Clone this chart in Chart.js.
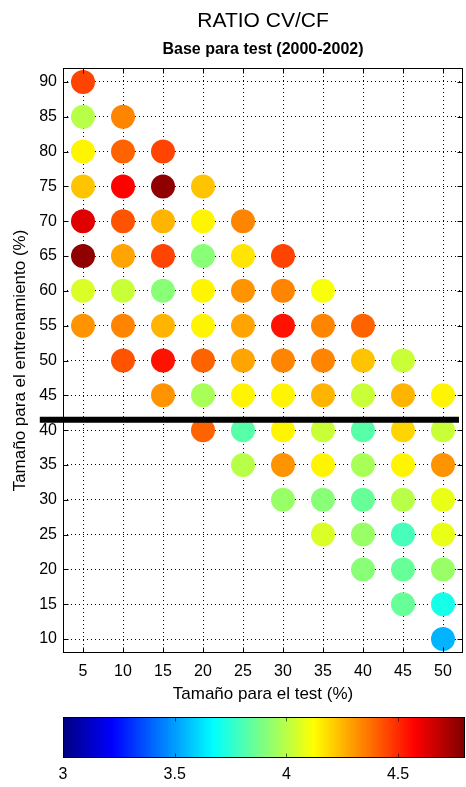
<!DOCTYPE html>
<html>
<head>
<meta charset="utf-8">
<script src="https://cdn.jsdelivr.net/npm/chart.js@4.4.0/dist/chart.umd.min.js"></script>
<style>
  html, body { margin: 0; padding: 0; background: #fff; }
  #wrap { position: relative; width: 466px; height: 787px; }
  #main { position: absolute; left: 0; top: 0; }
  #bar { position: absolute; left: 0; top: 712px; }
</style>
</head>
<body>
<div id="wrap">
  <canvas id="main" width="466" height="712"></canvas>
  <canvas id="bar" width="466" height="75"></canvas>
</div>
<script>
// training size (%) for each row, and the first test size (%) present in that row
const trainSizes = [90, 85, 80, 75, 70, 65, 60, 55, 50, 45, 40, 35, 30, 25, 20, 15, 10];
const firstTest  = [ 5,  5,  5,  5,  5,  5,  5,  5, 10, 15, 20, 25, 30, 35, 40, 45, 50];

// CV/CF ratio per row, test size going 5 by 5 from firstTest
const ratio90 = [4.45];
const ratio85 = [4.00, 4.33];
const ratio80 = [4.15, 4.40, 4.46];
const ratio75 = [4.22, 4.55, 4.76, 4.22];
const ratio70 = [4.62, 4.42, 4.25, 4.15, 4.33];
const ratio65 = [4.75, 4.28, 4.46, 3.92, 4.17, 4.45];
const ratio60 = [4.05, 4.02, 3.90, 4.15, 4.30, 4.33, 4.10];
const ratio55 = [4.30, 4.34, 4.25, 4.15, 4.27, 4.53, 4.33, 4.40];
const ratio50 = [4.43, 4.52, 4.38, 4.28, 4.35, 4.33, 4.22, 4.03];
const ratio45 = [4.30, 3.98, 4.13, 4.15, 4.25, 4.03, 4.24, 4.15];
const ratio40 = [4.38, 3.82, 4.14, 4.02, 3.82, 4.20, 4.02];
const ratio35 = [4.00, 4.30, 4.13, 3.97, 4.13, 4.30];
const ratio30 = [3.93, 3.90, 3.86, 4.00, 4.07];
const ratio25 = [4.05, 3.95, 3.80, 4.08];
const ratio20 = [3.92, 3.86, 3.93];
const ratio15 = [3.85, 3.72];
const ratio10 = [3.55];
const ratioRows = [ratio90, ratio85, ratio80, ratio75, ratio70, ratio65, ratio60, ratio55,
                   ratio50, ratio45, ratio40, ratio35, ratio30, ratio25, ratio20, ratio15, ratio10];

const xTicks = [5, 10, 15, 20, 25, 30, 35, 40, 45, 50];
const yTicks = [10, 15, 20, 25, 30, 35, 40, 45, 50, 55, 60, 65, 70, 75, 80, 85, 90];
const cbTicks = [3, 3.5, 4, 4.5];
const cbLabels = ['3', '3.5', '4', '4.5'];

// black separator line
const splitLevel = 41.5;
const splitFrom = -0.4, splitTo = 52;

const cMin = 3, cMax = 4.8;

const FONT = "'Liberation Sans', Arial, sans-serif";
Chart.defaults.font.family = FONT;
Chart.defaults.color = '#000';
Chart.defaults.animation = false;

// matlab jet
function jetAt(t) {
  const c = x => Math.round(255 * Math.max(0, Math.min(1, x)));
  return 'rgb(' + c(1.5 - Math.abs(4 * t - 3)) + ',' + c(1.5 - Math.abs(4 * t - 2)) + ',' + c(1.5 - Math.abs(4 * t - 1)) + ')';
}
function jet(v) {
  let i = Math.floor((v - cMin) / (cMax - cMin) * 64);
  i = Math.max(0, Math.min(63, i));
  return jetAt(i / 63);
}

const points = [];
trainSizes.forEach((y, r) => {
  ratioRows[r].forEach((v, k) => points.push({ x: firstTest[r] + 5 * k, y: y, v: v }));
});

const boxPlugin = {
  id: 'box',
  afterDraw(chart) {
    const { ctx, chartArea: a, scales: { x, y } } = chart;
    const L = Math.round(a.left) + 0.5, R = Math.round(a.right) - 0.5;
    const T = Math.round(a.top) + 0.5, B = Math.round(a.bottom) - 0.5;
    ctx.save();
    ctx.strokeStyle = '#000';
    ctx.lineWidth = 1;
    ctx.strokeRect(L, T, R - L, B - T);
    ctx.beginPath();
    xTicks.forEach(v => {
      const px = Math.round(x.getPixelForValue(v)) + 0.5;
      ctx.moveTo(px, B); ctx.lineTo(px, B - 5);
      ctx.moveTo(px, T); ctx.lineTo(px, T + 5);
    });
    yTicks.forEach(v => {
      const py = Math.round(y.getPixelForValue(v)) + 0.5;
      ctx.moveTo(L, py); ctx.lineTo(L + 5, py);
      ctx.moveTo(R, py); ctx.lineTo(R - 5, py);
    });
    ctx.stroke();
    ctx.restore();
  }
};

new Chart(document.getElementById('main'), {
  type: 'scatter',
  data: {
    datasets: [
      {
        type: 'line',
        data: [{ x: splitFrom, y: splitLevel }, { x: splitTo, y: splitLevel }],
        borderColor: '#000',
        borderWidth: 6,
        pointRadius: 0,
        clip: false,
        order: 0
      },
      {
        data: points,
        pointRadius: 12,
        pointHoverRadius: 12,
        pointBorderWidth: 0,
        pointBackgroundColor: ctx => jet(ctx.raw ? ctx.raw.v : cMin),
        pointBorderColor: 'rgba(0,0,0,0)',
        order: 1
      }
    ]
  },
  options: {
    responsive: false,
    events: [],
    layout: { autoPadding: false, padding: { left: 0, right: 3, top: 0, bottom: 0 } },
    plugins: {
      legend: { display: false },
      tooltip: { enabled: false },
      title: {
        display: true,
        text: 'RATIO CV/CF',
        fullSize: false,
        font: { size: 21, weight: 'normal' },
        color: '#000',
        padding: { top: 9, bottom: 4 }
      },
      subtitle: {
        display: true,
        text: 'Base para test (2000-2002)',
        fullSize: false,
        font: { size: 16, weight: 'bold' },
        color: '#000',
        padding: { top: 2, bottom: 8.6 }
      }
    },
    scales: {
      x: {
        type: 'linear',
        min: 2.5,
        max: 52.5,
        afterBuildTicks: s => { s.ticks = xTicks.map(v => ({ value: v })); },
        afterFit: s => { s.height = 59; s.paddingLeft = 0; s.paddingRight = 0; },
        ticks: { font: { size: 16 }, padding: 9, color: '#000', callback: v => String(v), maxRotation: 0 },
        grid: { color: '#000', lineWidth: 1, drawTicks: false },
        border: { display: false, dash: [1, 3] },
        title: { display: true, text: 'Tamaño para el test (%)', font: { size: 17 }, color: '#000', padding: { top: 0, bottom: 7 } }
      },
      y: {
        type: 'linear',
        min: 8,
        max: 92,
        afterBuildTicks: s => { s.ticks = yTicks.map(v => ({ value: v })); },
        afterFit: s => { s.width = 63; s.paddingTop = 0; s.paddingBottom = 0; },
        ticks: { font: { size: 16 }, padding: 6, color: '#000', callback: v => String(v) },
        grid: { color: '#000', lineWidth: 1, drawTicks: false },
        border: { display: false, dash: [1, 3] },
        title: { display: true, text: 'Tamaño para el entrenamiento (%)', font: { size: 17 }, color: '#000', padding: { top: 10, bottom: 0 } }
      }
    }
  },
  plugins: [boxPlugin]
});

// colour bar
const colorbarPlugin = {
  id: 'colorbar',
  beforeDatasetsDraw(chart) {
    const { ctx, chartArea: a, scales: { x } } = chart;
    ctx.save();
    const steps = 256;
    for (let i = 0; i < steps; i++) {
      const v0 = cMin + (cMax - cMin) * i / steps;
      const v1 = cMin + (cMax - cMin) * (i + 1) / steps;
      const p0 = x.getPixelForValue(v0), p1 = x.getPixelForValue(v1);
      ctx.fillStyle = jetAt((i + 0.5) / steps);
      ctx.fillRect(Math.floor(p0), a.top, Math.ceil(p1) - Math.floor(p0), a.bottom - a.top);
    }
    const L = Math.round(a.left) + 0.5, R = Math.round(a.right) - 0.5;
    const T = Math.round(a.top) + 0.5, B = Math.round(a.bottom) - 0.5;
    ctx.strokeStyle = '#000';
    ctx.lineWidth = 1;
    ctx.strokeRect(L, T, R - L, B - T);
    ctx.beginPath();
    cbTicks.forEach(v => {
      const px = Math.round(x.getPixelForValue(v)) + 0.5;
      ctx.moveTo(px, B); ctx.lineTo(px, B - 4);
      ctx.moveTo(px, T); ctx.lineTo(px, T + 4);
    });
    ctx.strokeStyle = 'rgba(0,0,0,0.6)';
    ctx.stroke();
    ctx.restore();
  }
};

new Chart(document.getElementById('bar'), {
  type: 'scatter',
  data: { datasets: [{ data: [] }] },
  options: {
    responsive: false,
    events: [],
    layout: { autoPadding: false, padding: { left: 63, right: 1, top: 5, bottom: 0 } },
    plugins: { legend: { display: false }, tooltip: { enabled: false } },
    scales: {
      x: {
        type: 'linear',
        min: cMin,
        max: cMax,
        afterBuildTicks: s => { s.ticks = cbTicks.map(v => ({ value: v })); },
        afterFit: s => { s.height = 29; s.paddingLeft = 0; s.paddingRight = 0; },
        ticks: { font: { size: 16 }, padding: 7, color: '#000', callback: (v, i) => cbLabels[i], maxRotation: 0 },
        grid: { display: false, drawTicks: false },
        border: { display: false }
      },
      y: { display: false, min: 0, max: 1 }
    }
  },
  plugins: [colorbarPlugin]
});
</script>
</body>
</html>
